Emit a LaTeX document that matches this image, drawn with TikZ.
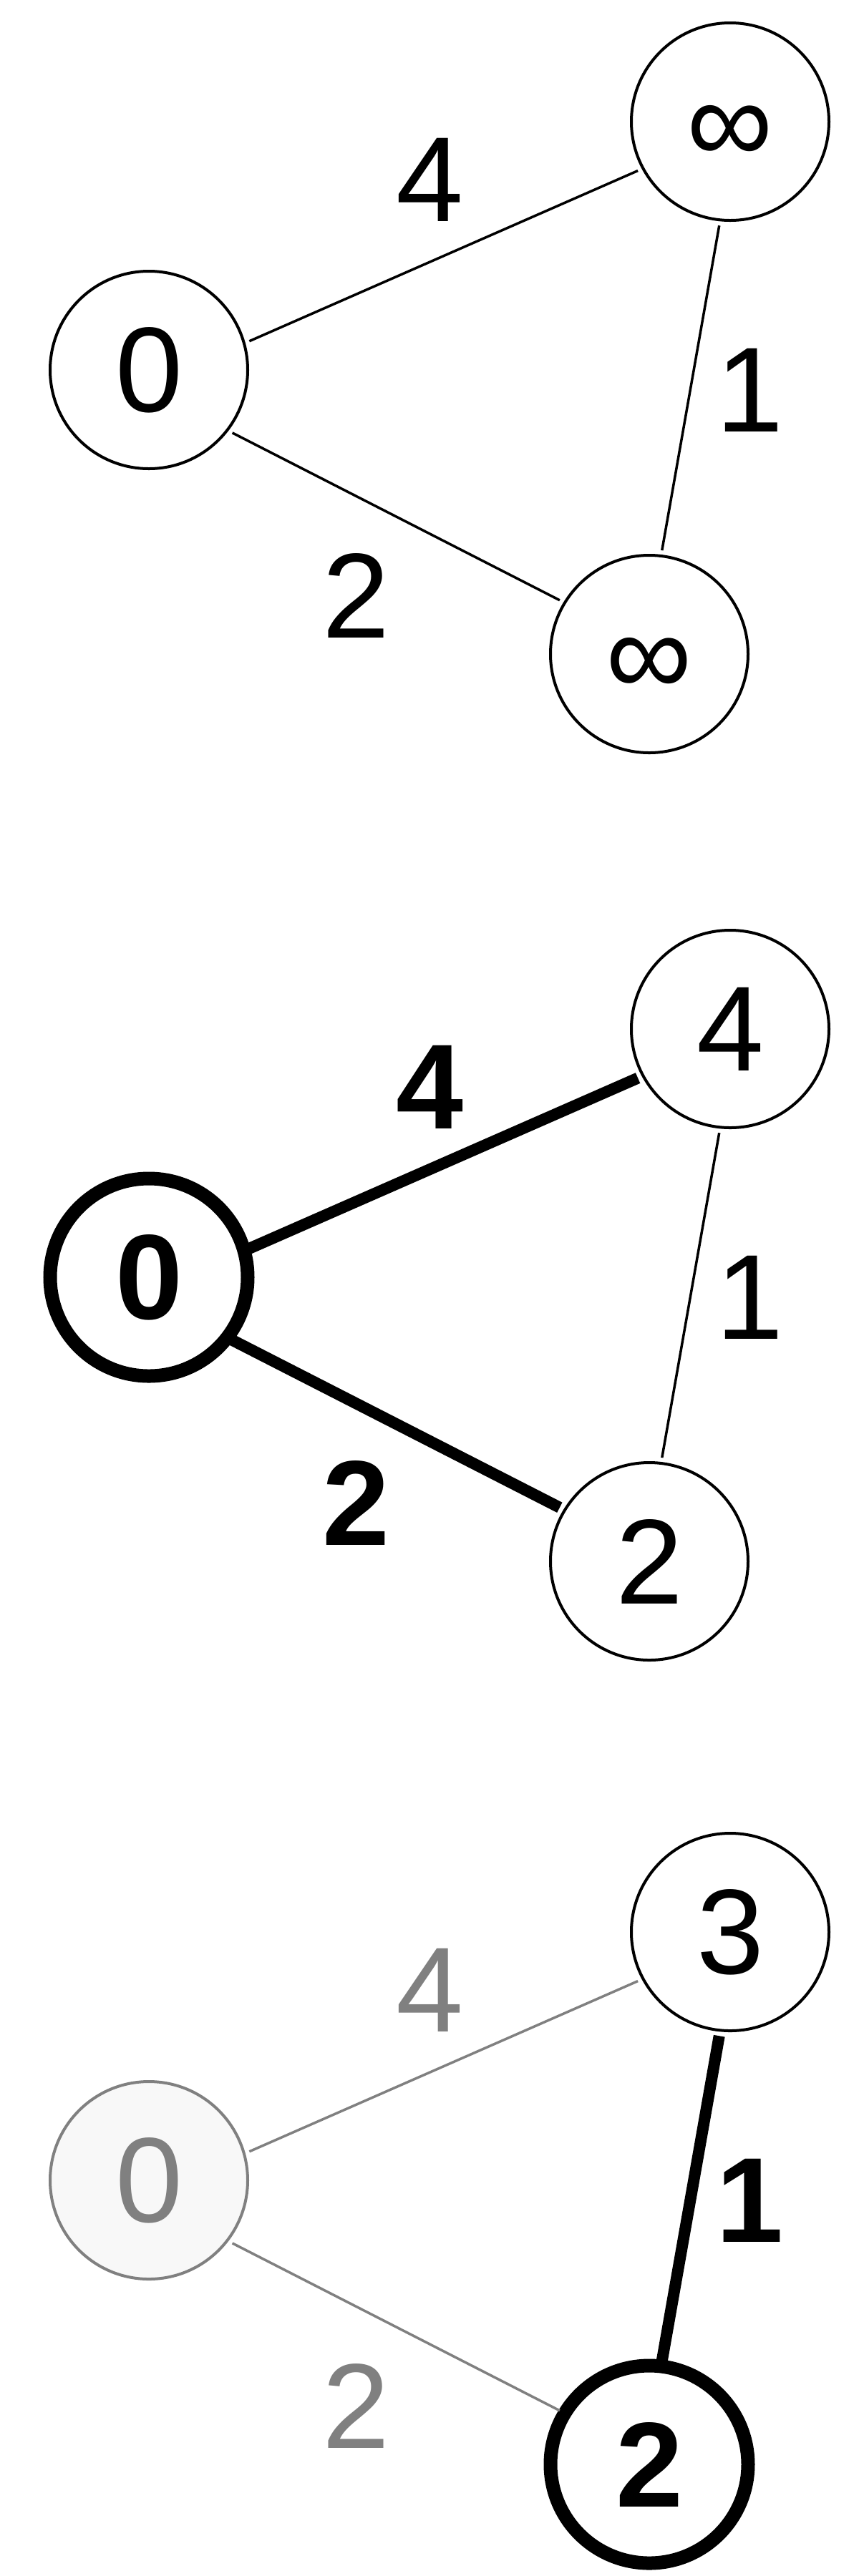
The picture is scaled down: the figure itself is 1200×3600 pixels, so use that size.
\documentclass[tikz,border=0pt]{standalone}
\usepackage{fontspec}
\setmainfont{Liberation Sans}
\definecolor{fadegray}{HTML}{808080}
\definecolor{fadefill}{HTML}{F8F8F8}

\begin{document}
\begin{tikzpicture}[x=0.2pt,y=-0.2pt]

  \tikzset{
    vertex/.style={circle,draw,line width=0.8pt,minimum size=55.2pt,inner sep=0pt,
      outer sep=1.6pt,font=\fontsize{33.8pt}{40pt}\selectfont},
    vertexbold/.style={vertex,line width=3.8pt,font=\fontsize{33.8pt}{40pt}\selectfont\bfseries},
    vertexfaded/.style={vertex,draw=fadegray,fill=fadefill,text=fadegray},
    link/.style={line width=0.7pt},
    linkbold/.style={line width=3.2pt},
    linkfaded/.style={link,draw=fadegray},
    weight/.style={inner sep=0pt,font=\fontsize{33.8pt}{40pt}\selectfont},
    weightbold/.style={weight,font=\fontsize{33.8pt}{40pt}\selectfont\bfseries},
    weightfaded/.style={weight,text=fadegray},
  }
  \useasboundingbox (0,0) rectangle (1200,3600);

  %GRAPH 1
  \node[vertex] (A1) at (208,517) {0};
  \node[vertex] (B1) at (1020,170) {\vphantom{0}∞};
  \node[vertex] (C1) at (907,914) {\vphantom{0}∞};
  \draw[link] (A1.16) -- (B1.208);
  \draw[link] (A1.-37) -- (C1.149);
  \draw[link] (B1.-96) -- (C1.83);
  \node[weight] (W1ab) at (600,251) {4};
  \node[weight] (W1bc) at (1047,545) {1};
  \node[weight] (W1ac) at (497,832) {2};

  %GRAPH 2
  \begin{scope}[shift={(0,1268)}]
    \node[vertexbold] (A2) at (208,517) {0};
    \node[vertex] (B2) at (1020,170) {4};
    \node[vertex] (C2) at (907,914) {2};
    \draw[linkbold] (A2.16) -- (B2.208);
    \draw[linkbold] (A2.-37) -- (C2.149);
    \draw[link] (B2.-96) -- (C2.83);
    \node[weightbold] (W2ab) at (600,251) {4};
    \node[weight] (W2bc) at (1047,545) {1};
    \node[weightbold] (W2ac) at (497,832) {2};
  \end{scope}

  %GRAPH 3
  \begin{scope}[shift={(0,2530)}]
    \node[vertexfaded] (A3) at (208,517) {0};
    \node[vertex] (B3) at (1020,170) {3};
    \node[vertexbold] (C3) at (907,914) {2};
    \draw[linkfaded] (A3.16) -- (B3.208);
    \draw[linkfaded] (A3.-37) -- (C3.149);
    \draw[linkbold] (B3.-96) -- (C3.83);
    \node[weightfaded] (W3ab) at (600,251) {4};
    \node[weightbold] (W3bc) at (1047,545) {1};
    \node[weightfaded] (W3ac) at (497,832) {2};
  \end{scope}

\end{tikzpicture}
\end{document}
